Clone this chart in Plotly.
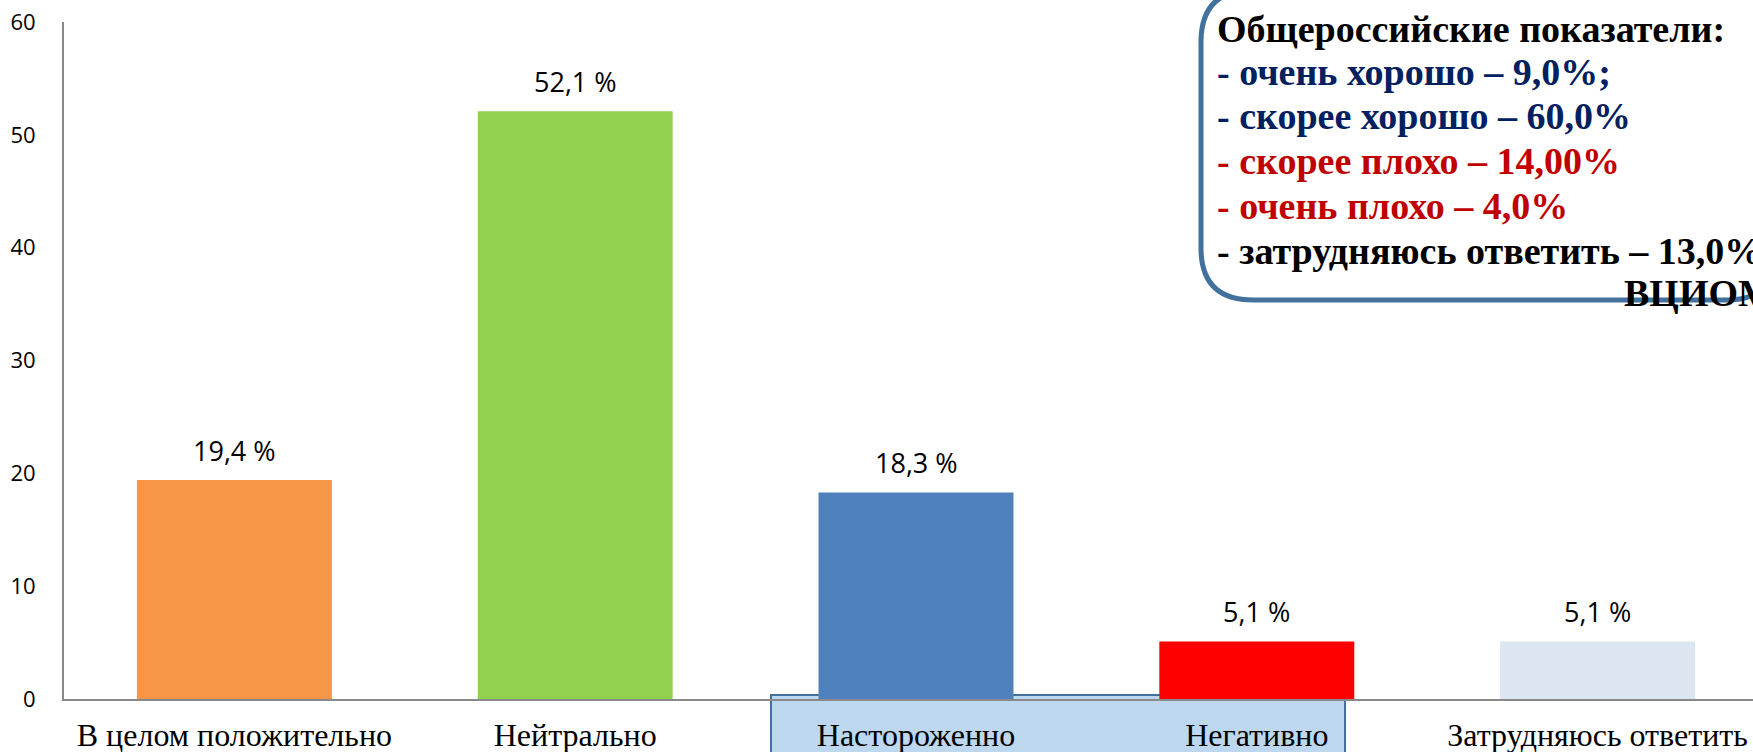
import plotly.graph_objects as go

# ---- data ----
categories = ["В целом положительно", "Нейтрально", "Настороженно", "Негативно", "Затрудняюсь ответить"]
values = [19.4, 52.1, 18.3, 5.1, 5.1]
bar_colors = ["#F79646", "#92D050", "#4F81BD", "#FF0000", "#DCE6F2"]
y_ticks = [0, 10, 20, 30, 40, 50, 60]

info_lines = [
    "Общероссийские показатели:",
    "- очень хорошо – 9,0%;",
    "- скорее хорошо – 60,0%",
    "- скорее плохо – 14,00%",
    "- очень плохо – 4,0%",
    "- затрудняюсь ответить – 13,0%",
]
info_colors = ["#000000", "#002060", "#002060", "#C00000", "#C00000", "#000000"]
source_text = "ВЦИОМ"

# ---- geometry (pixels) ----
W, H = 1753, 752
ML, MR, MT, MB = 64, 0, 22, 53
PW = W - ML - MR
PH = H - MT - MB
AXIS_Y = H - MB


def px_x(px):
    return (px - ML) / PW


def px_y(py):
    return (AXIS_Y - py) / PH


fig = go.Figure()
fig.add_trace(go.Bar(
    x=categories, y=values,
    marker=dict(color=bar_colors, line=dict(width=0)),
    width=0.572,
    hoverinfo="skip",
))

annotations = []
for c, v in zip(categories, values):
    annotations.append(dict(
        x=c, y=v, xref="x", yref="y",
        text=f"{v:.1f} %".replace(".", ","),
        showarrow=False, yanchor="middle", yshift=30,
        font=dict(family="Open Sans", size=27, color="#000000"),
    ))

FS = 38
baselines = [41, 84, 128, 173, 218, 263]
for t, col, b in zip(info_lines, info_colors, baselines):
    annotations.append(dict(
        x=px_x(1215), y=px_y(b - 12), xref="paper", yref="paper",
        text=f"<b>{t}</b>", showarrow=False, xanchor="left", yanchor="middle",
        font=dict(family="Liberation Serif", size=FS, color=col),
    ))
annotations.append(dict(
    x=px_x(1622), y=px_y(305 - 12), xref="paper", yref="paper",
    text=f"<b>{source_text}</b>", showarrow=False, xanchor="left", yanchor="middle",
    font=dict(family="Liberation Serif", size=FS, color="#000000"),
))


def rounded_path(x0, y0, x1, y1, r):
    pts = [
        ("M", [(x0 + r, y0)]),
        ("L", [(x1 - r, y0)]),
        ("Q", [(x1, y0), (x1, y0 + r)]),
        ("L", [(x1, y1 - r)]),
        ("Q", [(x1, y1), (x1 - r, y1)]),
        ("L", [(x0 + r, y1)]),
        ("Q", [(x0, y1), (x0, y1 - r)]),
        ("L", [(x0, y0 + r)]),
        ("Q", [(x0, y0), (x0 + r, y0)]),
    ]
    s = ""
    for cmd, ps in pts:
        s += cmd + " ".join(f"{px_x(a):.5f},{px_y(b):.5f}" for a, b in ps) + " "
    return s + "Z"


shapes = [
    dict(type="path", xref="paper", yref="paper",
         path=rounded_path(1201, -10, 1778, 300, 52),
         line=dict(color="#41719C", width=5), fillcolor="#FFFFFF", layer="above"),
    dict(type="rect", xref="paper", yref="paper",
         x0=px_x(771), x1=px_x(1345), y0=px_y(695), y1=px_y(770),
         line=dict(color="#41719C", width=2), fillcolor="#BDD7EE", layer="below"),
]

fig.update_layout(
    width=W, height=H,
    margin=dict(l=ML, r=MR, t=MT, b=MB, pad=0, autoexpand=False),
    paper_bgcolor="rgba(0,0,0,0)", plot_bgcolor="rgba(0,0,0,0)",
    showlegend=False, bargap=0.428,
    annotations=annotations, shapes=shapes,
    xaxis=dict(
        type="category", range=[-0.5, 4.456], showgrid=False, zeroline=False,
        showline=True, linecolor="#898989", linewidth=2, ticks="",
        tickfont=dict(family="Liberation Serif", size=32, color="#000000"),
        ticklabelstandoff=7, fixedrange=True, automargin=False,
    ),
    yaxis=dict(
        range=[0, 60], tickvals=y_ticks, showgrid=False, zeroline=False,
        showline=True, linecolor="#898989", linewidth=2, ticks="",
        tickfont=dict(family="Open Sans", size=22, color="#000000"),
        ticklabelstandoff=22, fixedrange=True, automargin=False,
    ),
)

fig.write_html(
    "out.html",
    config={"displayModeBar": False, "staticPlot": True},
    post_script="document.body.style.margin='0';document.body.style.overflow='hidden';",
)
